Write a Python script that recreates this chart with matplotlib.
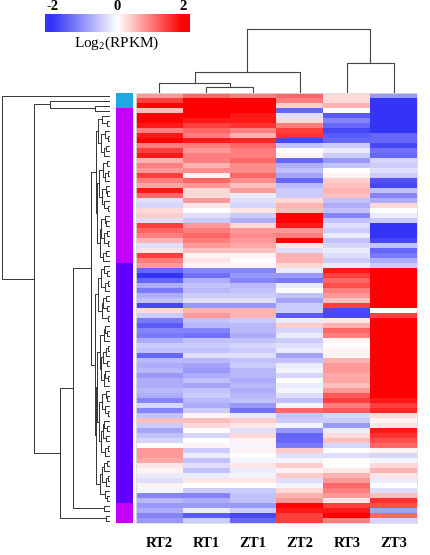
import numpy as np
import matplotlib
matplotlib.use("Agg")
import matplotlib.pyplot as plt
from matplotlib.colors import LinearSegmentedColormap, Normalize, ListedColormap

plt.rcParams["font.family"] = ["Liberation Serif", "DejaVu Serif"]
plt.rcParams["mathtext.fontset"] = "custom"
plt.rcParams["mathtext.rm"] = "Liberation Serif"
plt.rcParams["mathtext.it"] = "Liberation Serif:italic"

# samples in dendrogram order
samples = ["RT2", "RT1", "ZT1", "ZT2", "RT3", "ZT3"]

# log2(RPKM), z-scored, one value per gene band (top -> bottom)
RT2 = [0.8, 1.5, 2, 0.5, 2, 2, 1.8, 1.0, 1.8, 2, 1.0, 1.5, 1.8, 0.6, 1.0, 0.8, 1.5, 1.0, 0.7, 1.8, 1.2, -0.3,
       -0.4, 0.3, 0.4, -0.3, 1.5, 1.2, 1.0, 0.6, -0.3, 0.2, 1.5, 1.0, 0.8, -1.5, -2, -1.5, -0.8, -1.3, -0.8, -0.6, -1.8, 0.3,
       -0.5, -1.3, -1.6, -1.2, -1.3, -0.8, -0.5, -0.6, -1.5, -0.7, -0.8, -0.7, -1.0, -0.8, -0.8, -0.7, -0.8, -1.2, -0.4, -1.2, -0.6, 0.5,
       -0.5, -0.9, -0.6, -0.4, 0.0, 0.8, 0.8, 0.7, 0.2, 0.1, -0.2, -0.3, 0.1, -0.1, -1.2, -0.7, -1.0, -0.8, -1.2, -1.0]
RT1 = [1.2, 2, 2, 2, 2, 1.8, 1.5, 1.2, 1.0, 1.8, 1.0, 0.8, 1.0, 1.0, 0.6, 0.9, 0.1, 1.2, 0.8, 0.3, 0.3, 0.8,
       0.2, 0.0, -0.3, -0.5, 0.8, 1.0, 1.2, 1.0, 0.8, 0.5, 0.1, 0.2, 0.1, -1.2, -1.4, -0.8, -0.6, -0.7, -0.5, -0.3, -1.0, 0.6,
       0.8, -0.6, -0.7, -1.2, -1.4, -0.6, -0.5, -0.6, -0.3, -0.7, -0.9, -1.0, -0.8, -0.6, -0.9, -0.6, -0.5, -0.7, -0.8, -0.5, 0.1, 0.5,
       0.3, 0.0, -0.4, 0.0, 0.1, -0.5, -0.2, -0.6, -0.3, -0.6, -0.2, 0.2, 0.0, -0.5, -1.2, -0.8, -1.0, -0.2, -1.6, -0.5]
ZT1 = [1.0, 2, 2, 2, 1.8, 1.8, 1.6, 1.0, 0.6, 1.7, 1.2, 1.0, 1.0, 1.2, 0.9, 0.9, 1.2, 0.9, 0.5, 0.8, -0.2, -0.3,
       -0.4, 0.2, -0.5, -0.8, 0.3, 0.8, 0.9, 0.8, 0.7, 0.5, 0.1, 0.0, 0.1, -1.2, -1.0, -1.2, -0.7, -0.6, -0.5, -0.3, -1.0, 0.6,
       0.6, -0.5, -0.7, -0.7, -0.8, -0.6, -0.4, -0.5, -0.3, -0.6, -0.5, -0.7, -0.7, -0.8, -0.7, -0.8, -0.7, -0.6, -1.0, -1.4, -0.2, 0.4,
       0.2, -0.3, 0.3, 0.1, -0.1, 0.1, 0.0, -0.1, 0.2, -0.2, -0.1, 0.2, 0.0, -0.5, -0.6, -0.6, -1.0, -0.5, -1.8, -1.5]
ZT2 = [1.2, 1.0, 0.4, -1.5, -0.3, 0.3, 1.0, 1.5, 1.6, -1.8, -0.6, 0.0, 0.1, -1.5, -0.8, -0.6, -0.9, -1.5, -0.7, -0.5, -0.5, 0.3,
       0.6, 0.5, 2, 2, 1.8, 0.8, 1.0, 2, 0.2, -0.3, 0.6, 0.6, 0.3, -0.2, -1.0, -1.3, -0.2, 0.0, -0.6, -0.9, -0.5, -0.5,
       -1.6, -0.2, 0.4, -0.4, -0.2, -0.5, -0.3, -0.2, -0.9, -0.6, -0.2, -0.1, -0.4, 0.0, -0.2, -0.1, -0.3, -0.6, -0.1, 1.2, -0.6, -0.5,
       -0.1, -1.0, -1.5, -1.5, -1.3, 0.4, -0.3, -0.1, 0.4, 0.1, 0.4, -0.3, -0.1, 0.3, 0.6, 0.8, 2, 1.8, 1.5, 1.5]
RT3 = [0.3, 0.3, 0.6, 0.0, -1.6, -1.2, -1.5, -1.8, -1.6, -1.5, -0.5, -0.2, -0.5, -1.0, -0.6, 0.0, 0.1, 0.4, 0.5, 0.6, 0.5, -0.6,
       -0.8, -0.6, -1.2, -0.6, -0.3, -0.5, -0.2, -0.6, -0.4, -0.2, -0.3, -0.5, -0.2, 1.8, 1.5, 1.2, 1.4, 1.0, 0.8, 0.5, 1.5, -1.8,
       -1.8, 0.2, 0.6, 1.2, 1.0, 0.1, 0.0, 0.1, 0.1, 0.6, 0.8, 0.8, 0.7, 0.7, 0.5, 0.8, 1.3, 1.5, 1.0, 1.3, -0.4, -0.5,
       -1.0, -0.2, 0.3, 0.5, -0.4, 0.0, -0.3, 0.0, 0.0, 0.2, 0.6, 0.8, 1.2, 1.0, 0.8, 0.2, 1.5, 1.8, 2, 1.0]
ZT3 = [-1.0, -2, -2, -2, -2, -2, -2, -2, -1.5, -1.5, -1.8, -1.4, -1.5, -0.4, -0.5, -0.3, -0.5, -1.7, -1.8, -0.6, -1.2, -0.8,
       0.3, 0.0, -0.2, -0.5, -2, -2, -2, -1.8, -0.6, -1.5, -1.3, -0.8, -0.5, 2, 2, 2, 2, 2, 2, 2, 2, 0.0,
       1.5, 2, 2, 2, 2, 2, 2, 2, 2, 2, 2, 2, 2, 2, 2, 2, 2, 1.8, 1.5, 1.7, 0.3, 0.1,
       0.2, 1.8, 1.6, 1.4, 1.2, 0.1, -0.4, -0.1, 0.3, 0.6, 0.2, -0.2, 0.0, -0.3, 0.5, 1.6, 1.4, -0.9, 1.2, -0.4]

# gene clusters (row colour bar), sizes in bands, top -> bottom
cluster_colors = ["#1EA9E4", "#C400FF", "#6200FF", "#C400FF"]
cluster_sizes = [3, 31, 48, 4]

# merge heights between neighbouring leaves (ordered dendrogram)
col_merge = [10, 6, 21, 64, 30]
row_merge = [108, 60, 15, 76,
             8, 3, 12, 5, 2, 9, 4, 6, 14, 3, 7, 2, 5, 11, 4, 3, 8, 6, 2, 13, 5, 4, 9, 3, 6, 2, 10, 4, 7,
             19,
             6, 3, 9, 2, 5, 12, 4, 7, 3, 8, 2, 15, 5, 3, 6, 10, 2, 4, 7, 3, 9, 5, 2, 6, 13, 4, 3, 8, 5, 2,
             11, 6, 3, 7, 4, 9, 2, 5, 14, 3, 6, 8, 2, 4, 10, 5, 3,
             37, 6, 50, 4]

data = np.array([RT2, RT1, ZT1, ZT2, RT3, ZT3]).T
n_rows = data.shape[0]
row_lab = np.repeat(np.arange(len(cluster_sizes)), cluster_sizes)
assert len(row_lab) == n_rows and len(row_merge) == n_rows - 1, (len(row_lab), len(row_merge), n_rows)


def dendro_segments(gaps):
    segs = []

    def rec(lo, hi):
        if lo == hi:
            return float(lo), 0.0
        k = lo + int(np.argmax(gaps[lo:hi]))
        p1, h1 = rec(lo, k)
        p2, h2 = rec(k + 1, hi)
        h = gaps[k]
        segs.append(([p1, p1, p2, p2], [h1, h, h, h2]))
        return (p1 + p2) / 2, h

    rec(0, len(gaps))
    return segs


cmap = LinearSegmentedColormap.from_list("bwr2", ["#3434F6", "#FFFFFF", "#FF0000"])
norm = Normalize(-2, 2)

W, H = 430, 555
fig = plt.figure(figsize=(W / 100, H / 100), dpi=100)


def px(x0, y0, x1, y1):
    return [x0 / W, 1 - y1 / H, (x1 - x0) / W, (y1 - y0) / H]


top, bot = 93, 523

# heatmap
ax = fig.add_axes(px(136, top, 417, bot))
ax.imshow(data, aspect="auto", cmap=cmap, norm=norm, interpolation="nearest")
ax.set_yticks([])
ax.set_xticks(range(len(samples)))
ax.set_xticklabels(samples, fontsize=10.5, fontweight="bold")
ax.tick_params(axis="x", length=0, pad=10)
for s in ax.spines.values():
    s.set_color("#dddddd")
    s.set_linewidth(0.6)

# row cluster bar
axc = fig.add_axes(px(116, top, 133, bot))
axc.imshow(row_lab[:, None], aspect="auto", cmap=ListedColormap(cluster_colors),
           vmin=-0.5, vmax=len(cluster_colors) - 0.5, interpolation="nearest")
axc.axis("off")

# row dendrogram
axr = fig.add_axes(px(0, top, 110, bot))
for pos, hts in dendro_segments(row_merge):
    axr.plot(hts, pos, color="#333333", lw=0.7)
axr.set_xlim(110, 0)
axr.set_ylim(n_rows - 0.5, -0.5)
axr.axis("off")

# column dendrogram
axt = fig.add_axes(px(136, 27, 417, top))
for pos, hts in dendro_segments(col_merge):
    axt.plot(pos, hts, color="#444444", lw=0.8)
axt.set_xlim(-0.5, len(samples) - 0.5)
axt.set_ylim(0, 66)
axt.axis("off")

# colour key
axk = fig.add_axes(px(45, 14, 190, 32))
grad = np.linspace(-2.22, 2.22, 300)[None, :]
axk.imshow(grad, aspect="auto", cmap=cmap, norm=norm, extent=(-2.22, 2.22, 0, 1))
axk.set_yticks([])
axk.xaxis.tick_top()
axk.set_xticks([-2, 0, 2])
axk.set_xticklabels(["-2", "0", "2"], fontsize=10.5, fontweight="bold")
axk.tick_params(axis="x", length=0, pad=1)
for s in axk.spines.values():
    s.set_visible(False)
fig.text(117 / W, 1 - 43 / H, r"Log$_2$(RPKM)", ha="center", va="center", fontsize=11)

fig.savefig("out.png", dpi=100)
